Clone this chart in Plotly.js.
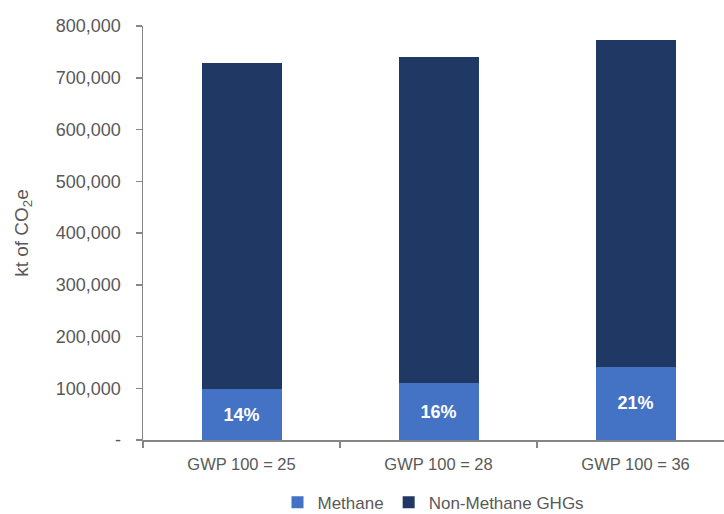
<!DOCTYPE html>
<html>
<head>
<meta charset="utf-8">
<script src="https://cdn.plot.ly/plotly-3.0.1.min.js"></script>
<style>
  html, body { margin: 0; padding: 0; background: #ffffff; }
  #chart { width: 724px; height: 514px; }
</style>
</head>
<body>
<div id="chart"></div>
<script>
// GWP100 scenarios for methane
const categories = ['GWP 100 = 25', 'GWP 100 = 28', 'GWP 100 = 36'];
// kt of CO2e
const methane = [98000, 110000, 142000];
const nonMethane = [631000, 630000, 631000];
const methaneShareLabels = ['14%', '16%', '21%'];

// y-axis ticks
const yTickVals = [0, 100000, 200000, 300000, 400000, 500000, 600000, 700000, 800000];
const yTickText = ['-', '100,000', '200,000', '300,000', '400,000', '500,000', '600,000', '700,000', '800,000'];

const FONT = 'Liberation Sans, Arial, sans-serif';
const AXIS_GREY = '#868686';
const TEXT_GREY = '#595959';

const traces = [
  {
    type: 'bar',
    name: 'Methane',
    x: categories,
    y: methane,
    width: 0.406,
    marker: { color: '#4472C4', line: { width: 0 } },
    text: methaneShareLabels,
    texttemplate: '<b>%{text}</b>',
    textposition: 'inside',
    insidetextanchor: 'middle',
    textangle: 0,
    constraintext: 'none',
    textfont: { family: FONT, size: 18, color: '#ffffff' },
    hoverinfo: 'skip'
  },
  {
    type: 'bar',
    name: 'Non-Methane GHGs',
    x: categories,
    y: nonMethane,
    width: 0.406,
    marker: { color: '#203864', line: { width: 0 } },
    hoverinfo: 'skip'
  }
];

const layout = {
  width: 724,
  height: 514,
  margin: { l: 143, r: 0, t: 26, b: 74, pad: 0, autoexpand: false },
  paper_bgcolor: '#ffffff',
  plot_bgcolor: '#ffffff',
  barmode: 'stack',
  bargap: 0,
  showlegend: true,
  font: { family: FONT, color: TEXT_GREY },
  xaxis: {
    type: 'category',
    range: [-0.5, 2.449],
    showgrid: false,
    zeroline: false,
    showline: true,
    linecolor: AXIS_GREY,
    linewidth: 1.5,
    ticks: 'outside',
    tickson: 'boundaries',
    ticklen: 6,
    tickwidth: 1.5,
    tickcolor: AXIS_GREY,
    tickfont: { family: FONT, size: 16.5, color: TEXT_GREY },
    ticklabelstandoff: 9,
    automargin: false,
    fixedrange: true
  },
  yaxis: {
    range: [0, 800000],
    showgrid: false,
    zeroline: false,
    showline: true,
    linecolor: AXIS_GREY,
    linewidth: 1.5,
    ticks: 'outside',
    ticklen: 6,
    tickwidth: 1.5,
    tickcolor: AXIS_GREY,
    tickvals: yTickVals,
    ticktext: yTickText,
    tickfont: { family: FONT, size: 18, color: TEXT_GREY },
    ticklabelstandoff: 11,
    title: {
      text: 'kt of CO<sub>2</sub>e',
      font: { family: FONT, size: 19, color: TEXT_GREY },
      standoff: 22
    },
    automargin: false,
    fixedrange: true
  },
  legend: {
    orientation: 'h',
    x: 0.5,
    xanchor: 'center',
    y: -0.108,
    yanchor: 'top',
    font: { family: FONT, size: 17, color: TEXT_GREY },
    traceorder: 'normal',
    itemwidth: 30,
    bgcolor: 'rgba(0,0,0,0)'
  }
};

Plotly.newPlot('chart', traces, layout, { displayModeBar: false, staticPlot: true });
</script>
</body>
</html>
